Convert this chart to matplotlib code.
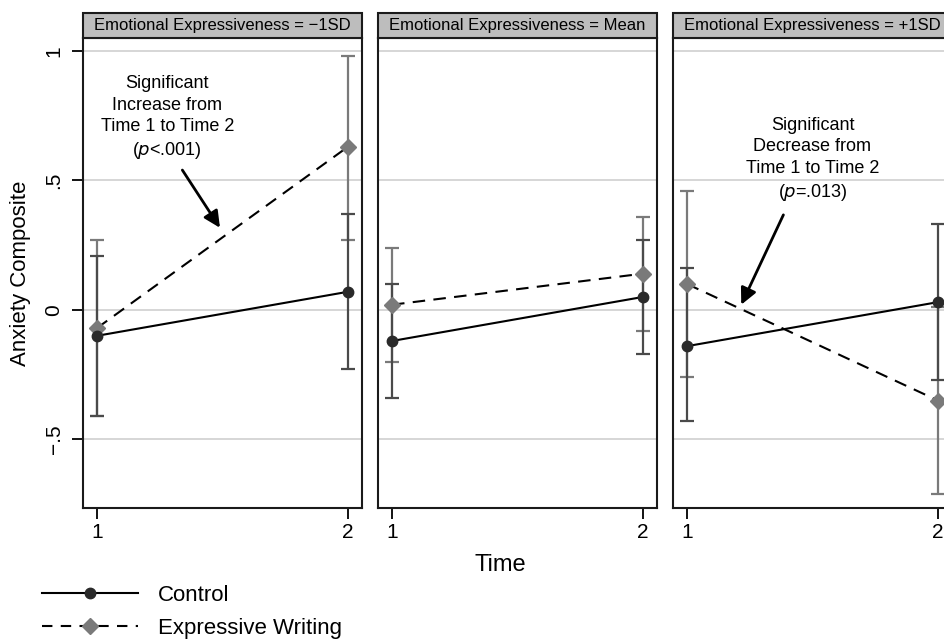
import numpy as np
import matplotlib.pyplot as plt
from matplotlib.patches import Rectangle
from matplotlib.lines import Line2D

plt.rcParams['font.family'] = ['Liberation Sans', 'DejaVu Sans']

# Data
time = [1, 2]
panels = ["Emotional Expressiveness = \u22121SD",
          "Emotional Expressiveness = Mean",
          "Emotional Expressiveness = +1SD"]

control_mean = [[-0.10, 0.07], [-0.12, 0.05], [-0.14, 0.03]]
control_lo = [[-0.41, -0.23], [-0.34, -0.17], [-0.43, -0.27]]
control_hi = [[0.21, 0.37], [0.10, 0.27], [0.16, 0.33]]

writing_mean = [[-0.07, 0.63], [0.02, 0.14], [0.10, -0.35]]
writing_lo = [[-0.41, 0.27], [-0.20, -0.08], [-0.26, -0.71]]
writing_hi = [[0.27, 0.98], [0.24, 0.36], [0.46, 0.01]]

yticks = [-0.5, 0, 0.5, 1]
yticklabels = ["\u2212.5", "0", ".5", "1"]

fig = plt.figure(figsize=(9.45, 6.41), dpi=100)
fig.patch.set_facecolor('white')

W, H = 945, 641
lefts = [83, 378, 673]
pw = 279
top_px, bot_px = 38, 508

axes = []
for i, left in enumerate(lefts):
    ax = fig.add_axes([left / W, 1 - bot_px / H, pw / W, (bot_px - top_px) / H])
    axes.append(ax)

    for y in yticks:
        ax.axhline(y, color='#d0d0d0', lw=1.2, zorder=0)

    cm = np.array(control_mean[i])
    wm = np.array(writing_mean[i])
    c_err = [cm - np.array(control_lo[i]), np.array(control_hi[i]) - cm]
    w_err = [wm - np.array(writing_lo[i]), np.array(writing_hi[i]) - wm]

    ax.errorbar(time, wm, yerr=w_err, fmt='none', ecolor='#7a7a7a',
                elinewidth=1.6, capsize=5, capthick=1.6, zorder=2)
    ax.errorbar(time, cm, yerr=c_err, fmt='none', ecolor='#4a4a4a',
                elinewidth=1.6, capsize=5, capthick=1.6, zorder=2)
    ax.plot(time, wm, color='black', ls=(0, (6, 4)), lw=1.5, zorder=3)
    ax.plot(time, wm, ls='none', marker='D', ms=8, color='#7a7a7a', zorder=4)
    ax.plot(time, cm, color='black', lw=1.5, marker='o', ms=7.5,
            markerfacecolor='#2a2a2a', markeredgecolor='#2a2a2a', zorder=5)

    ax.set_xlim(0.944, 2.056)
    ax.set_ylim(-0.765, 1.05)
    ax.set_xticks(time)
    ax.set_xticklabels(['1', '2'], fontsize=15)
    ax.tick_params(axis='x', length=8, width=1.3, pad=3)
    if i == 0:
        ax.set_yticks(yticks)
        ax.set_yticklabels(yticklabels, fontsize=15, rotation=90, va='center')
        ax.tick_params(axis='y', length=8, width=1.3, pad=6)
        ax.set_ylabel("Anxiety Composite", fontsize=16, labelpad=10)
    else:
        ax.set_yticks([])
    for s in ax.spines.values():
        s.set_linewidth(1.5)
        s.set_color('#1a1a1a')

    # strip header
    ax.add_patch(Rectangle((0, 1), 1, 25 / (bot_px - top_px), transform=ax.transAxes,
                           facecolor='#bdbdbd', edgecolor='#1a1a1a', lw=1.5,
                           clip_on=False, zorder=6))
    ax.text(0.5, 1 + 12.5 / (bot_px - top_px), panels[i], transform=ax.transAxes,
            ha='center', va='center', fontsize=12, zorder=7)

arrow = dict(arrowstyle='-|>,head_length=0.45,head_width=0.22', color='black',
             lw=2, mutation_scale=22, shrinkA=0, shrinkB=0)

axes[0].text(1.28, 0.74, "Significant\nIncrease from\nTime 1 to Time 2\n($p$<.001)",
             ha='center', va='center', fontsize=13, linespacing=1.35)
axes[0].annotate("", xy=(1.49, 0.317), xytext=(1.34, 0.54), arrowprops=arrow)

axes[2].text(1.50, 0.58, "Significant\nDecrease from\nTime 1 to Time 2\n($p$=.013)",
             ha='center', va='center', fontsize=13, linespacing=1.35)
axes[2].annotate("", xy=(1.216, 0.02), xytext=(1.384, 0.367), arrowprops=arrow)

fig.text(500 / W, 1 - 565 / H, "Time", ha='center', va='center', fontsize=17)

handles = [Line2D([], [], color='black', lw=1.5, marker='o', ms=7.5,
                  markerfacecolor='#2a2a2a', markeredgecolor='#2a2a2a'),
           Line2D([], [], color='black', lw=1.5, ls=(0, (5, 4)), marker='D', ms=8,
                  markerfacecolor='#7a7a7a', markeredgecolor='#7a7a7a')]
fig.legend(handles, ["Control", "Expressive Writing"], loc='center left',
           bbox_to_anchor=(22 / W, 1 - 612 / H), frameon=False, fontsize=16,
           handlelength=4.3, handletextpad=0.9, labelspacing=0.55)

fig.savefig("out.png", dpi=100, facecolor='white')
